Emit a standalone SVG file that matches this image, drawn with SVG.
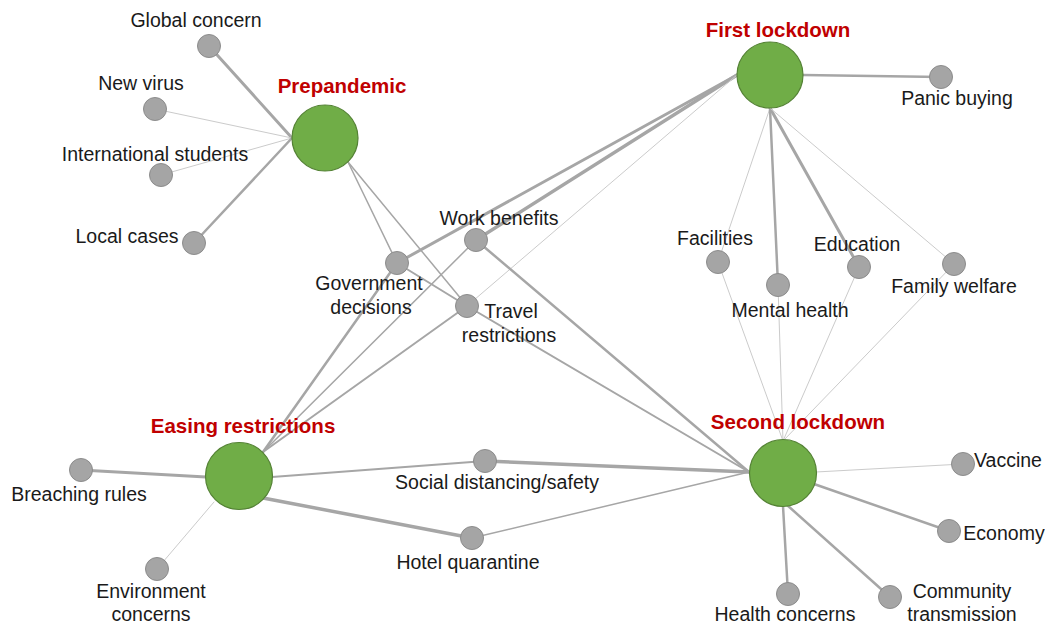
<svg xmlns="http://www.w3.org/2000/svg" width="1045" height="626" viewBox="0 0 1045 626">
<style>
.e{stroke:#a6a6a6;stroke-linecap:round;fill:none}
.t{stroke:#cbcbcb;stroke-width:1}
.w15{stroke-width:1.5}.w2{stroke-width:2}.w25{stroke-width:2.5}.w3{stroke-width:3}.w35{stroke-width:3.5}
.big{fill:#70ad47;stroke:#548235;stroke-width:1.2}
.sm{fill:#a5a5a5;stroke:#8c8c8c;stroke-width:1}
.lb{font-family:"Liberation Sans",Arial,sans-serif;font-size:19.5px;fill:#1a1a1a;text-anchor:middle}
.hd{font-family:"Liberation Sans",Arial,sans-serif;font-size:20.5px;font-weight:bold;fill:#c00000;text-anchor:middle}
</style>
<rect width="1045" height="626" fill="#ffffff"/>
<g id="connectors">
<line class="e w3" x1="292" y1="138" x2="209" y2="46"/>
<line class="e t" x1="292" y1="138" x2="155" y2="109"/>
<line class="e t" x1="292" y1="138" x2="161" y2="175"/>
<line class="e w25" x1="292" y1="138" x2="194" y2="243"/>
<line class="e w15" x1="348" y1="162" x2="397" y2="263"/>
<line class="e w15" x1="348" y1="162" x2="467" y2="306"/>
<line class="e w3" x1="737" y1="75" x2="397" y2="263"/>
<line class="e w35" x1="737" y1="75" x2="476" y2="240"/>
<line class="e t" x1="737" y1="75" x2="467" y2="306"/>
<line class="e w25" x1="803" y1="75" x2="941" y2="77"/>
<line class="e t" x1="770" y1="108" x2="718" y2="262"/>
<line class="e w25" x1="770" y1="108" x2="778" y2="285"/>
<line class="e w3" x1="770" y1="108" x2="859" y2="267"/>
<line class="e t" x1="770" y1="108" x2="954" y2="264"/>
<line class="e w25" x1="397" y1="263" x2="263" y2="452"/>
<line class="e w15" x1="476" y1="240" x2="263" y2="452"/>
<line class="e w2" x1="467" y1="306" x2="263" y2="452"/>
<line class="e w3" x1="81" y1="470" x2="206" y2="477"/>
<line class="e t" x1="157" y1="569" x2="214" y2="502"/>
<line class="e w2" x1="485" y1="461" x2="272" y2="477"/>
<line class="e w35" x1="472" y1="538" x2="263" y2="498"/>
<line class="e w2" x1="397" y1="263" x2="467" y2="306"/>
<line class="e w25" x1="476" y1="240" x2="749" y2="472"/>
<line class="e w2" x1="467" y1="306" x2="749" y2="472"/>
<line class="e w35" x1="485" y1="461" x2="749" y2="472"/>
<line class="e w15" x1="472" y1="538" x2="749" y2="472"/>
<line class="e t" x1="718" y1="262" x2="783" y2="441"/>
<line class="e t" x1="778" y1="285" x2="783" y2="441"/>
<line class="e t" x1="859" y1="267" x2="783" y2="441"/>
<line class="e t" x1="954" y1="264" x2="783" y2="441"/>
<line class="e t" x1="816" y1="472" x2="963" y2="464"/>
<line class="e w25" x1="814" y1="484" x2="949" y2="531"/>
<line class="e w25" x1="783" y1="506" x2="788" y2="594"/>
<line class="e w25" x1="787" y1="505" x2="890" y2="597"/>
</g>
<g id="node-prepandemic"><circle class="big" cx="325" cy="138" r="33"/><text class="hd" x="342" y="93">Prepandemic</text></g>
<g id="node-first-lockdown"><circle class="big" cx="770" cy="75" r="33"/><text class="hd" x="778" y="37">First lockdown</text></g>
<g id="node-easing-restrictions"><circle class="big" cx="239" cy="476" r="33.5"/><text class="hd" x="243" y="433">Easing restrictions</text></g>
<g id="node-second-lockdown"><circle class="big" cx="783" cy="473" r="33.5"/><text class="hd" x="798" y="429">Second lockdown</text></g>
<g id="node-global-concern"><circle class="sm" cx="209" cy="46" r="11.5"/><text class="lb" x="196" y="27">Global concern</text></g>
<g id="node-new-virus"><circle class="sm" cx="155" cy="109" r="11.5"/><text class="lb" x="141" y="90">New virus</text></g>
<g id="node-international-students"><circle class="sm" cx="161" cy="175" r="11.5"/><text class="lb" x="155" y="161">International students</text></g>
<g id="node-local-cases"><circle class="sm" cx="194" cy="243" r="11.5"/><text class="lb" x="127" y="243">Local cases</text></g>
<g id="node-government-decisions"><circle class="sm" cx="397" cy="263" r="11.5"/><text class="lb" x="369" y="290">Government</text><text class="lb" x="371" y="314">decisions</text></g>
<g id="node-work-benefits"><circle class="sm" cx="476" cy="240" r="11.5"/><text class="lb" x="499" y="225">Work benefits</text></g>
<g id="node-travel-restrictions"><circle class="sm" cx="467" cy="306" r="11.5"/><text class="lb" x="511" y="318">Travel</text><text class="lb" x="509" y="342">restrictions</text></g>
<g id="node-panic-buying"><circle class="sm" cx="941" cy="77" r="11.5"/><text class="lb" x="957" y="105">Panic buying</text></g>
<g id="node-facilities"><circle class="sm" cx="718" cy="262" r="11.5"/><text class="lb" x="715" y="245">Facilities</text></g>
<g id="node-mental-health"><circle class="sm" cx="778" cy="285" r="11.5"/><text class="lb" x="790" y="317">Mental health</text></g>
<g id="node-education"><circle class="sm" cx="859" cy="267" r="11.5"/><text class="lb" x="857" y="251">Education</text></g>
<g id="node-family-welfare"><circle class="sm" cx="954" cy="264" r="11.5"/><text class="lb" x="954" y="293">Family welfare</text></g>
<g id="node-breaching-rules"><circle class="sm" cx="81" cy="470" r="11.5"/><text class="lb" x="79" y="501">Breaching rules</text></g>
<g id="node-environment-concerns"><circle class="sm" cx="157" cy="569" r="11.5"/><text class="lb" x="151" y="598">Environment</text><text class="lb" x="151" y="621">concerns</text></g>
<g id="node-social-distancing"><circle class="sm" cx="485" cy="461" r="11.5"/><text class="lb" x="497" y="489">Social distancing/safety</text></g>
<g id="node-hotel-quarantine"><circle class="sm" cx="472" cy="538" r="11.5"/><text class="lb" x="468" y="569">Hotel quarantine</text></g>
<g id="node-vaccine"><circle class="sm" cx="963" cy="464" r="11.5"/><text class="lb" x="1008" y="467">Vaccine</text></g>
<g id="node-economy"><circle class="sm" cx="949" cy="531" r="11.5"/><text class="lb" x="1004" y="540">Economy</text></g>
<g id="node-health-concerns"><circle class="sm" cx="788" cy="594" r="11.5"/><text class="lb" x="785" y="621">Health concerns</text></g>
<g id="node-community-transmission"><circle class="sm" cx="890" cy="597" r="11.5"/><text class="lb" x="962" y="598">Community</text><text class="lb" x="962" y="621">transmission</text></g>
</svg>
